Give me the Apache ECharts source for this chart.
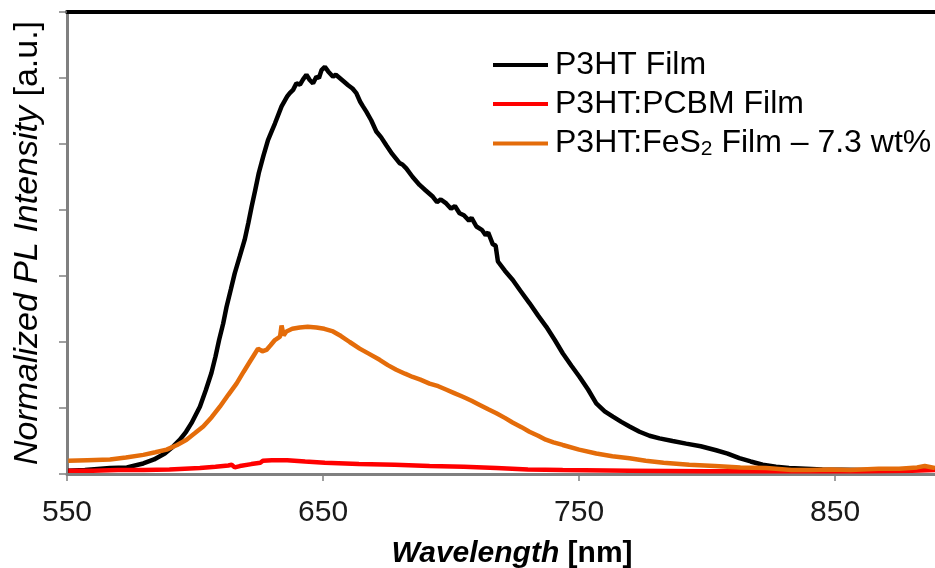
<!DOCTYPE html>
<html>
<head>
<meta charset="utf-8">
<script src="https://cdn.jsdelivr.net/npm/echarts@6/dist/echarts.min.js"></script>
<style>
  html, body { margin: 0; padding: 0; background: #fff; }
  #chart { width: 935px; height: 568px; }
</style>
</head>
<body>
<div id="chart"></div>
<script>
// Photoluminescence spectra (wavelength in nm, intensity in a.u.)
const p3htWl = [550.4,557,566.8,573.4,579.8,584,588.2,591,594.1,596.5,598.6,601.9,604.2,606.4,608,609.4,611,612.3,614,615.5,617.5,619.4,620.8,622.1,623.5,624.9,626.7,628.5,630,631.2,633.8,636,637,638.3,639.6,641,642.2,643.5,644.8,646.1,647.4,648.4,649.4,650.7,652,653.9,655,656.5,658,659.8,661.5,663,664.5,665.6,666.9,668.8,670.8,672.7,674.7,677,679.9,681,682.5,685,687.7,690,692.9,694.5,696,698.1,700,701.5,703.3,705,707,708,709.9,712,713.5,714.5,716.3,717.4,718.3,721,724.1,727,730.6,734,737.2,740.5,743.6,747,750.2,753.5,756.7,760,763.2,766.5,769.7,773.6,777.5,781.4,786.5,791.8,797.5,803.5,808,812.6,817,821.7,826.9,832,845,860,875,889];
const p3htPL = [0.05,0.06,0.09,0.1,0.16,0.22,0.31,0.4,0.52,0.64,0.77,1.02,1.27,1.53,1.78,2.03,2.28,2.53,2.8,3.04,3.3,3.55,3.8,4.05,4.3,4.56,4.82,5.06,5.2,5.31,5.57,5.72,5.77,5.82,5.92,5.9,5.98,6.05,5.97,5.92,6.02,6.0,6.12,6.17,6.1,6.02,6.05,6.0,5.95,5.89,5.84,5.77,5.64,5.57,5.49,5.36,5.19,5.1,4.98,4.85,4.71,4.69,4.63,4.5,4.38,4.3,4.2,4.12,4.16,4.1,4.02,4.06,3.95,3.92,3.84,3.88,3.75,3.7,3.62,3.66,3.48,3.46,3.22,3.08,2.94,2.78,2.59,2.4,2.23,2.03,1.83,1.64,1.47,1.28,1.07,0.95,0.87,0.79,0.72,0.64,0.58,0.54,0.5,0.46,0.42,0.36,0.31,0.24,0.19,0.14,0.11,0.09,0.07,0.06,0.06,0.07];

const pcbmWl = [550.5,560,570,580,590,601.9,608,613,614.3,615.5,616.2,617.5,622,625.5,626.5,630,636,643,650.7,664,678,691.6,705,717.7,730,743.6,769.7,800,830,860,880,889];
const pcbmPL = [0.05,0.05,0.06,0.06,0.07,0.09,0.11,0.13,0.14,0.1,0.09,0.12,0.15,0.17,0.2,0.21,0.21,0.19,0.17,0.15,0.14,0.12,0.11,0.09,0.07,0.06,0.05,0.04,0.04,0.04,0.05,0.06];

const fes2Wl = [550.5,558,566.8,573,579.8,584.5,588.9,593,596.7,600,603.2,606.5,609.7,613,616.2,619,621.4,623,624.6,626.3,627.9,629.5,631.2,633.2,633.8,634.6,635.7,638,640.9,644,647.4,650.5,653.9,657,660.4,664.3,668,672.1,675.3,678.6,682,685,688,691.6,695,698,701,704.6,708,711,714.5,717.7,721,724,727.5,730.6,734,737,740,743.6,750,756.7,763,769.7,776,783,793,803,813,823,833,840,848,856,867,875,882,885,889];
const fes2PL = [0.2,0.21,0.22,0.25,0.29,0.33,0.37,0.44,0.52,0.62,0.72,0.86,1.02,1.2,1.37,1.55,1.7,1.8,1.9,1.86,1.88,1.95,2.03,2.08,2.25,2.1,2.16,2.2,2.22,2.23,2.22,2.2,2.16,2.09,2.0,1.9,1.82,1.73,1.65,1.58,1.52,1.47,1.43,1.37,1.33,1.28,1.23,1.17,1.11,1.05,0.98,0.92,0.85,0.78,0.71,0.64,0.58,0.52,0.48,0.44,0.37,0.31,0.27,0.24,0.2,0.17,0.14,0.12,0.1,0.09,0.06,0.06,0.07,0.06,0.08,0.08,0.1,0.12,0.09];

const xTicks = [550, 650, 750, 850];
const seriesNames = ['P3HT Film', 'P3HT:PCBM Film', 'P3HT:FeS2 Film \u2013 7.3 wt%'];

const pairs = (xs, ys) => xs.map((x, i) => [x, ys[i]]);
const FONT = 'Liberation Sans, Arial, sans-serif';

const chart = echarts.init(document.getElementById('chart'), null, { renderer: 'canvas' });

chart.setOption({
  animation: false,
  backgroundColor: '#fff',
  grid: { left: 67, right: 0, top: 12, bottom: 94, outerBoundsMode: 'none', containLabel: false },
  legend: {
    orient: 'vertical',
    left: 493,
    top: 49,
    padding: 0,
    icon: 'rect',
    itemWidth: 55,
    itemHeight: 4,
    itemGap: 7,
    data: seriesNames,
    formatter: function (name) {
      if (name.indexOf('FeS2') >= 0) {
        return '{n|P3HT:FeS}{s|2}{n| Film \u2013 7.3 wt%}';
      }
      return '{n|' + name + '}';
    },
    textStyle: {
      fontFamily: FONT,
      fontSize: 32,
      color: '#000',
      padding: [0, 0, 0, 2],
      rich: {
        n: { fontFamily: FONT, fontSize: 32, color: '#000', lineHeight: 33 },
        s: { fontFamily: FONT, fontSize: 21, color: '#000', lineHeight: 33, verticalAlign: 'bottom', padding: [12, 0, 0, 0] }
      }
    }
  },
  xAxis: [
    {
      type: 'value',
      min: 550,
      max: 889,
      interval: 100,
      position: 'bottom',
      splitLine: { show: false },
      axisLine: { show: true, onZero: false, lineStyle: { color: '#808080', width: 3 } },
      axisTick: { show: true, length: 7, customValues: xTicks, lineStyle: { color: '#808080', width: 1.5 } },
      axisLabel: { show: true, customValues: xTicks, margin: 24, fontFamily: FONT, fontSize: 30, color: '#1a1a1a' },
      name: '{b|Wavelength}{c| [nm]}',
      nameLocation: 'middle',
      nameGap: 65,
      nameTextStyle: {
        padding: [0, 0, 0, 22],
        rich: {
          b: { fontFamily: FONT, fontSize: 30, fontStyle: 'italic', fontWeight: 'bold', color: '#000' },
          c: { fontFamily: FONT, fontSize: 30, fontWeight: 'bold', color: '#000' }
        }
      }
    },
    {
      type: 'value',
      min: 550,
      max: 889,
      position: 'top',
      splitLine: { show: false },
      axisLine: { show: true, onZero: false, lineStyle: { color: '#000', width: 4 } },
      axisTick: { show: false },
      axisLabel: { show: false }
    }
  ],
  yAxis: {
    type: 'value',
    min: 0,
    max: 7,
    interval: 1,
    splitLine: { show: false },
    axisLine: { show: true, onZero: false, lineStyle: { color: '#808080', width: 3 } },
    axisTick: { show: true, length: 8, lineStyle: { color: '#808080', width: 1.5 } },
    axisLabel: { show: false },
    name: '{i|Normalized PL Intensity}{n| [a.u.]}',
    nameLocation: 'middle',
    nameRotate: 90,
    nameGap: 22,
    nameTextStyle: {
      rich: {
        i: { fontFamily: FONT, fontSize: 34, fontStyle: 'italic', color: '#000' },
        n: { fontFamily: FONT, fontSize: 34, color: '#000' }
      }
    }
  },
  series: [
    {
      name: seriesNames[0],
      type: 'line',
      data: pairs(p3htWl, p3htPL),
      showSymbol: false,
      color: '#000000',
      lineStyle: { color: '#000000', width: 4.5 }
    },
    {
      name: seriesNames[1],
      type: 'line',
      data: pairs(pcbmWl, pcbmPL),
      showSymbol: false,
      color: '#ff0000',
      lineStyle: { color: '#ff0000', width: 4.5 }
    },
    {
      name: seriesNames[2],
      type: 'line',
      data: pairs(fes2Wl, fes2PL),
      showSymbol: false,
      color: '#e46c0a',
      lineStyle: { color: '#e46c0a', width: 4.5 }
    }
  ]
});
</script>
</body>
</html>
